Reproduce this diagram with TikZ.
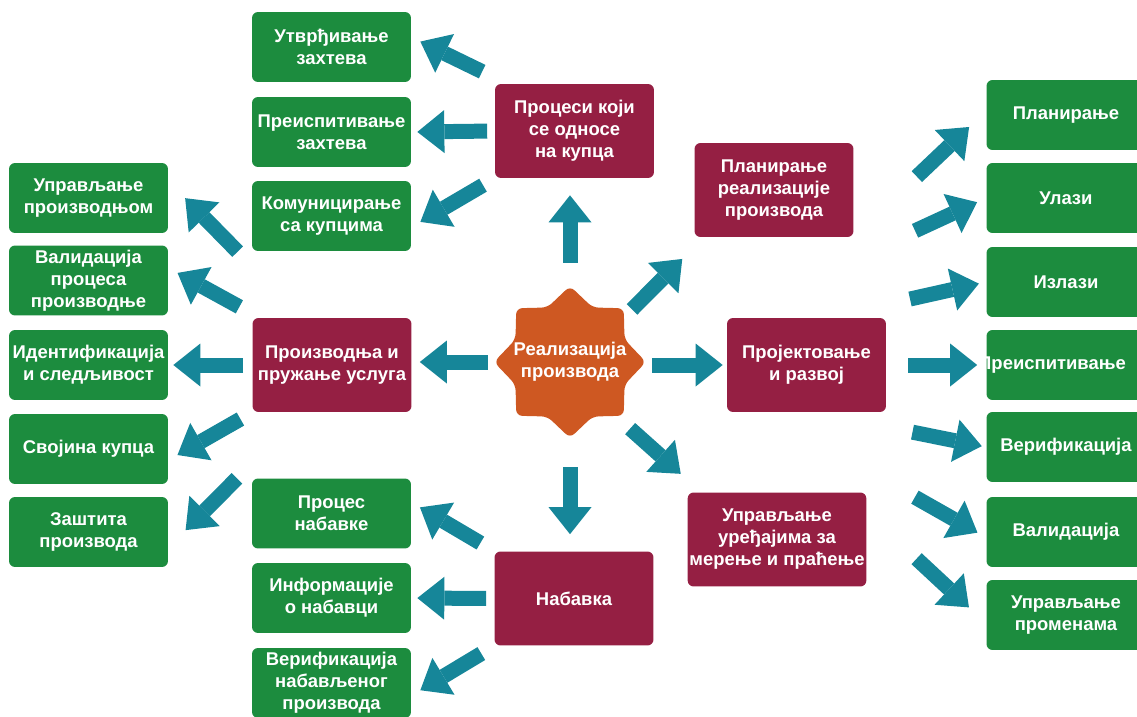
\documentclass[tikz,border=0pt]{standalone}
\usepackage{fontspec}
\setmainfont{Liberation Sans}
\usetikzlibrary{arrows.meta}

\definecolor{taskgreen}{RGB}{28,140,62}
\definecolor{procred}{RGB}{149,31,67}
\definecolor{realorange}{RGB}{206,88,34}
\definecolor{flowteal}{RGB}{22,134,153}

\begin{document}
\begin{tikzpicture}[
    x=0.02cm, y=-0.02cm,
    task/.style={rectangle, rounded corners=1.2mm, fill=taskgreen, text=white,
        minimum width=3.18cm, minimum height=1.4cm, inner sep=1pt, align=center,
        font=\bfseries\fontsize{10.5}{12.5}\selectfont},
    process/.style={task, fill=procred, minimum height=1.88cm},
    hub/.style={circle, minimum size=3.04cm, inner sep=0pt, text=white,
        align=center, font=\bfseries\fontsize{10.5}{12.5}\selectfont},
    flow/.style={draw=flowteal, line width=3mm,
        -{Triangle[length=5.4mm, width=8.6mm, line width=0pt]}}
]
    \useasboundingbox (0,0) rectangle (1137,717);

    % star behind the centre node
    \begin{scope}[shift={(570,362)}]
        \fill[realorange, rounded corners=1.2mm] (0:76)
            \foreach \k [evaluate=\k as \r using {76-17*mod(\k,2)}] in {1,...,15} {
                -- ({\k*22.5}:{\r}) } -- cycle;
    \end{scope}
    \node[hub] (real) at (570,362) {Реализација\\производа};

    % main processes
    \node[process] (kupac) at (574.5,131) {Процеси који\\се односе\\на купца};
    \node[process] (proizv) at (332,365) {Производња и\\пружање услуга};
    \node[process] (nabavka) at (574,598.5) {Набавка};
    \node[process] (planr) at (774,190) {Планирање\\реализације\\производа};
    \node[process] (proj) at (806.5,365) {Пројектовање\\и развој};
    \node[process, minimum width=3.52cm] (meren) at (777,539.5)
        {Управљање\\уређајима за\\мерење и праћење};

    % left column
    \node[task] (upr) at (88.5,198) {Управљање\\производњом};
    \node[task] (valp) at (88.5,280.5) {Валидација\\процеса\\производње};
    \node[task] (ident) at (88.5,365) {Идентификација\\и следљивост};
    \node[task] (svoj) at (88.5,449) {Својина купца};
    \node[task] (zast) at (88.5,532) {Заштита\\производа};

    % second column
    \node[task] (utvr) at (331.5,47) {Утврђивање\\захтева};
    \node[task] (preisz) at (331.5,132) {Преиспитивање\\захтева};
    \node[task] (komun) at (331.5,216) {Комуницирање\\са купцима};
    \node[task] (nabproc) at (331.5,513.5) {Процес\\набавке};
    \node[task] (nabinfo) at (331.5,598) {Информације\\о набавци};
    \node[task] (nabver) at (331.5,683) {Верификација\\набављеног\\производа};

    % right column
    \node[task] (plan) at (1066,115) {Планирање};
    \node[task] (ulazi) at (1066,198) {Улази};
    \node[task] (izlazi) at (1066,282) {Излази};
    \node[task] (preis) at (1066,365) {\hspace*{-0.56cm}Преиспитивање};
    \node[task] (verif) at (1066,447) {Верификација};
    \node[task] (valid) at (1066,532) {Валидација};
    \node[task] (promene) at (1066,615) {Управљање\\променама};

    % from the centre
    \draw[flow, shorten <=4.6mm, shorten >=3.4mm] (real.north) -- (real.north |- kupac.south);
    \draw[flow, shorten <=1mm, shorten >=6.1mm] (real.40) -- (planr.214);
    \draw[flow, shorten <=1.2mm, shorten >=0.8mm] (real.east |- proj.west) -- (proj.west);
    \draw[flow, shorten <=2.7mm, shorten >=5.5mm] (real.-49) -- (meren.148);
    \draw[flow, shorten <=5.8mm, shorten >=3.4mm] (real.south) -- (real.south |- nabavka.north);
    \draw[flow, shorten <=1.2mm, shorten >=1.6mm] (real.west) -- (real.west -| proizv.east);

    % customer processes
    \draw[flow, shorten <=5.5mm, shorten >=2mm] (kupac.145) -- (utvr.7);
    \draw[flow, shorten <=1.5mm, shorten >=1.2mm] (kupac.west) -- (preisz.east);
    \draw[flow, shorten <=2.7mm, shorten >=2.1mm] (kupac.south west) -- (komun.-8);

    % purchasing
    \draw[flow, shorten <=3.2mm, shorten >=2mm] (nabavka.north west) -- (nabproc.8);
    \draw[flow, shorten <=1.6mm, shorten >=1.2mm] (nabavka.west) -- (nabinfo.east);
    \draw[flow, shorten <=3mm, shorten >=2.1mm] (nabavka.south west) -- (nabver.-9);

    % production
    \draw[flow, shorten <=18.5mm, shorten >=4.8mm] (proizv.122) -- (upr.12);
    \draw[flow, shorten <=4.5mm, shorten >=2.1mm] (proizv.147) -- (valp.9);
    \draw[flow, shorten <=1.8mm, shorten >=1mm] (proizv.west) -- (ident.east);
    \draw[flow, shorten <=2.7mm, shorten >=2.1mm] (proizv.south west) -- (svoj.-8);
    \draw[flow, shorten <=18.6mm, shorten >=4.9mm] (proizv.238) -- (zast.-11);

    % design and development
    \draw[flow, shorten <=41mm, shorten >=4.7mm] (proj.129) -- (plan.177);
    \draw[flow, shorten <=41.5mm, shorten >=2mm] (proj.north west) -- (ulazi.west);
    \draw[flow, shorten <=17.1mm, shorten >=1.5mm] (proj.67) -- (izlazi.west);
    \draw[flow, shorten <=4.4mm, shorten >=1.8mm] (proj.east) -- (preis.west);
    \draw[flow, shorten <=20.1mm, shorten >=0.9mm] (proj.-81) -- (verif.west);
    \draw[flow, shorten <=34.4mm, shorten >=2mm] (proj.229) -- (valid.184);
    \draw[flow, shorten <=43mm, shorten >=4.7mm] (proj.225) -- (promene.186);
\end{tikzpicture}
\end{document}
